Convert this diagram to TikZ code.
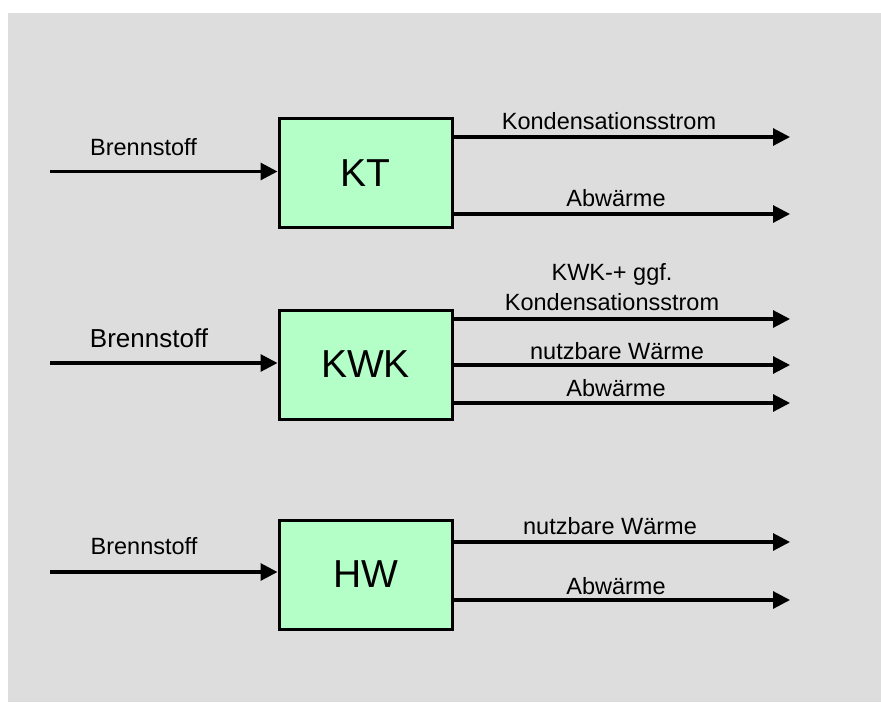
\documentclass[tikz,border=0pt]{standalone}
\usepackage{fontspec}
\setmainfont{Liberation Sans}
\usetikzlibrary{arrows.meta}
\definecolor{bggray}{RGB}{221,221,221}
\definecolor{boxgreen}{RGB}{180,255,200}
\begin{document}
\begin{tikzpicture}[x=1pt,y=-1pt,
  flow/.style={line width=3.1pt,-{Triangle[length=17pt,width=17pt]}},
  unit/.style={draw=black,line width=3pt,fill=boxgreen,minimum width=173pt,minimum height=109pt,inner sep=0pt,
    font=\fontsize{39}{45}\selectfont},
  lbl/.style={anchor=base,inner sep=0pt,font=\fontsize{23.5}{28}\selectfont},
  lblbig/.style={anchor=base,inner sep=0pt,font=\fontsize{26}{30}\selectfont}]
\useasboundingbox (0,0) rectangle (881,702);
\fill[white] (0,0) rectangle (881,702);
\fill[bggray] (8,13) rectangle (881,702);

% units
\node[unit] (kt)  at (365.5,173)   {KT};
\node[unit] (kwk) at (365.5,364.5) {KWK};
\node[unit] (hw)  at (365.5,574.5) {HW};

% input coordinates
\coordinate (ktin)  at (50,171.5);
\coordinate (kwkin) at (50,363);
\coordinate (hwin)  at (50,572);
\draw[flow] (ktin)  -- (ktin -| kt.west);
\draw[flow] (kwkin) -- (kwkin -| kwk.west);
\draw[flow] (hwin)  -- (hwin -| hw.west);
\node[lbl]    (ktb)  at (143.5,155) {Brennstoff};
\node[lblbig] (kwkb) at (149,347)   {Brennstoff};
\node[lbl]    (hwb)  at (144,554)   {Brennstoff};

% output coordinates
\coordinate (kto1)  at (790,137);
\coordinate (kto2)  at (790,214);
\coordinate (kwko1) at (790,319);
\coordinate (kwko2) at (790,365);
\coordinate (kwko3) at (790,403);
\coordinate (hwo1)  at (790,542);
\coordinate (hwo2)  at (790,600);

\draw[flow] (kto1 -| kt.east) -- (kto1);
\draw[flow] (kto2 -| kt.east) -- (kto2);
\draw[flow] (kwko1 -| kwk.east) -- (kwko1);
\draw[flow] (kwko2 -| kwk.east) -- (kwko2);
\draw[flow] (kwko3 -| kwk.east) -- (kwko3);
\draw[flow] (hwo1 -| hw.east) -- (hwo1);
\draw[flow] (hwo2 -| hw.east) -- (hwo2);

\node[lbl] (l1) at (609,129) {Kondensationsstrom};
\node[lbl] (l2) at (616,206) {Abwärme};
\node[lbl] (l3) at (612,280) {KWK-+ ggf.};
\node[lbl] (l4) at (612,310) {Kondensationsstrom};
\node[lbl] (l5) at (617,359) {nutzbare Wärme};
\node[lbl] (l6) at (616,396) {Abwärme};
\node[lbl] (l7) at (610,534) {nutzbare Wärme};
\node[lbl] (l8) at (616,594) {Abwärme};
\end{tikzpicture}
\end{document}
